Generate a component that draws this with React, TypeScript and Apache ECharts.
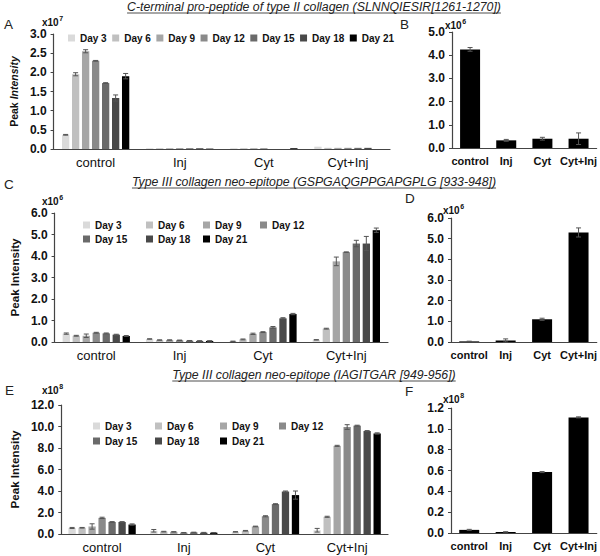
import React, { useEffect, useRef } from 'react';
import * as echarts from 'echarts';

const FONT = '"Liberation Sans", Arial, sans-serif';

const categories = ['control', 'Inj', 'Cyt', 'Cyt+Inj'];
const days = ['Day 3', 'Day 6', 'Day 9', 'Day 12', 'Day 15', 'Day 18', 'Day 21'];
const dayColors = ['#dadada', '#c0c0c0', '#a6a6a6', '#8a8a8a', '#6a6a6a', '#494949', '#000000'];

// Panel A (x10^7) rows = days, cols = categories
const aValues = [
  [0.37, 0.02, 0.02, 0.06],
  [1.95, 0.02, 0.02, 0.03],
  [2.55, 0.02, 0.02, 0.03],
  [2.30, 0.02, 0.02, 0.03],
  [1.72, 0.02, 0.0, 0.03],
  [1.33, 0.02, 0.0, 0.03],
  [1.90, 0.01, 0.02, 0.0],
];
const aErrors = [
  [0.01, 0, 0, 0],
  [0.04, 0, 0, 0],
  [0.04, 0, 0, 0],
  [0.01, 0, 0, 0],
  [0.01, 0, 0, 0],
  [0.08, 0, 0, 0],
  [0.07, 0, 0, 0],
];
// Panel B (x10^6)
const bValues = [4.25, 0.33, 0.4, 0.4];
const bErrors = [0.08, 0.04, 0.06, 0.25];

// Panel C (x10^6)
const cValues = [
  [0.39, 0.14, 0.03, 0.10],
  [0.29, 0.09, 0.12, 0.62],
  [0.29, 0.09, 0.38, 3.75],
  [0.43, 0.08, 0.46, 4.18],
  [0.40, 0.06, 0.68, 4.58],
  [0.34, 0.05, 1.10, 4.58],
  [0.28, 0.05, 1.30, 5.20],
];
const cErrors = [
  [0.03, 0.01, 0.01, 0.01],
  [0.02, 0.01, 0.02, 0.02],
  [0.08, 0.01, 0.03, 0.2],
  [0.02, 0.01, 0.02, 0.01],
  [0.02, 0.01, 0.04, 0.15],
  [0.02, 0.01, 0.03, 0.33],
  [0.02, 0.01, 0.03, 0.1],
];
// Panel D (x10^6)
const dValues = [0.03, 0.07, 1.1, 5.3];
const dErrors = [0.01, 0.08, 0.05, 0.22];

// Panel E (x10^8)
const eValues = [
  [0.56, 0.30, 0.20, 0.35],
  [0.58, 0.22, 0.30, 1.60],
  [0.70, 0.20, 0.70, 8.20],
  [1.50, 0.12, 1.65, 9.95],
  [1.12, 0.15, 2.78, 10.08],
  [1.12, 0.12, 3.95, 9.58],
  [0.88, 0.12, 3.62, 9.35],
];
const eErrors = [
  [0.05, 0.12, 0.02, 0.17],
  [0.03, 0.03, 0.03, 0.05],
  [0.25, 0.02, 0.03, 0.05],
  [0.06, 0.02, 0.05, 0.22],
  [0.03, 0.02, 0.04, 0.04],
  [0.03, 0.03, 0.05, 0.04],
  [0.06, 0.02, 0.38, 0.06],
];
// Panel F (x10^8)
const fValues = [0.03, 0.01, 0.585, 1.11];
const fErrors = [0.005, 0.002, 0.005, 0.005];

const yScales = [
  { max: 3, interval: 0.5 },
  { max: 5, interval: 1 },
  { max: 6, interval: 1 },
  { max: 6, interval: 1 },
  { max: 12, interval: 2 },
  { max: 1.2, interval: 0.2 },
];
const multipliers = ['7', '6', '6', '6', '8', '8'];
const panelLetters = ['A', 'B', 'C', 'D', 'E', 'F'];
const titles = [
  'C-terminal pro-peptide of type II collagen (SLNNQIESIR[1261-1270])',
  'Type III collagen neo-epitope (GSPGAQGPPGAPGPLG [933-948])',
  'Type III collagen neo-epitope (IAGITGAR [949-956])',
];

const grids = [
  { left: 48, top: 34, width: 342, height: 115 },
  { left: 452, top: 32, width: 145, height: 116 },
  { left: 49, top: 213, width: 339, height: 129 },
  { left: 451, top: 218, width: 146, height: 124 },
  { left: 49, top: 405, width: 339, height: 129 },
  { left: 451, top: 408, width: 146, height: 125 },
];

const BW = 7.3;
const GAP = 2.7;

function measure(text: string, font: string) {
  const c = document.createElement('canvas').getContext('2d');
  if (!c) return text.length * 6;
  c.font = font;
  return c.measureText(text).width;
}

function errorRenderer(idx: number, n: number) {
  return (params: any, api: any) => {
    const x = api.value(0);
    const v = api.value(1);
    const e = api.value(2);
    if (!e) return null;
    const hi = api.coord([x, v + e]);
    const lo = api.coord([x, Math.max(0, v - e)]);
    const cx = hi[0] + (idx - (n - 1) / 2) * (BW + GAP);
    const cap = 2.5;
    const style = { stroke: '#555', lineWidth: 1 };
    return {
      type: 'group',
      children: [
        { type: 'line', shape: { x1: cx, y1: hi[1], x2: cx, y2: lo[1] }, style },
        { type: 'line', shape: { x1: cx - cap, y1: hi[1], x2: cx + cap, y2: hi[1] }, style },
        { type: 'line', shape: { x1: cx - cap, y1: lo[1], x2: cx + cap, y2: lo[1] }, style },
      ],
    };
  };
}

function buildOption() {
  const series: any[] = [];
  const grouped = [
    { g: 0, values: aValues, errors: aErrors },
    { g: 2, values: cValues, errors: cErrors },
    { g: 4, values: eValues, errors: eErrors },
  ];
  grouped.forEach(({ g, values, errors }) => {
    days.forEach((d, i) => {
      series.push({
        type: 'bar', name: d, xAxisIndex: g, yAxisIndex: g,
        data: values[i], barWidth: BW, barGap: (GAP / BW * 100).toFixed(1) + '%',
        itemStyle: { color: dayColors[i] }, silent: true,
      });
    });
    days.forEach((d, i) => {
      series.push({
        type: 'custom', name: d + ' error', xAxisIndex: g, yAxisIndex: g, z: 5,
        renderItem: errorRenderer(i, 7), silent: true,
        encode: { x: 0, y: 1 },
        data: values[i].map((v, j) => [j, v, errors[i][j]]),
      });
    });
  });
  const singles = [
    { g: 1, values: bValues, errors: bErrors },
    { g: 3, values: dValues, errors: dErrors },
    { g: 5, values: fValues, errors: fErrors },
  ];
  singles.forEach(({ g, values, errors }) => {
    series.push({
      type: 'bar', name: 'Mean', xAxisIndex: g, yAxisIndex: g, data: values,
      barWidth: 20, itemStyle: { color: '#000' }, silent: true,
    });
    series.push({
      type: 'custom', name: 'Error', xAxisIndex: g, yAxisIndex: g, z: 5,
      renderItem: errorRenderer(0, 1), silent: true, encode: { x: 0, y: 1 },
      data: values.map((v, j) => [j, v, errors[j]]),
    });
  });

  const isLeft = (g: number) => g % 2 === 0;
  const xAxis = grids.map((_, g) => ({
    type: 'category', gridIndex: g, data: categories,
    axisTick: { show: false },
    axisLine: { lineStyle: { color: '#444', width: 1.2 } },
    axisLabel: isLeft(g)
      ? { fontSize: 13, color: '#111', fontFamily: FONT, margin: 7 }
      : { fontSize: 11, fontWeight: 'bold', color: '#111', fontFamily: FONT, margin: 7, interval: 0 },
  }));
  const yAxis = grids.map((_, g) => {
    const ax: any = {
      type: 'value', gridIndex: g, min: 0, max: yScales[g].max, interval: yScales[g].interval,
      splitLine: { show: false },
      axisLine: { show: true, lineStyle: { color: '#444', width: 1.2 } },
      axisTick: { show: true, length: 3, lineStyle: { color: '#444' } },
      axisLabel: {
        fontSize: 12, fontWeight: 'bold', color: '#111', fontFamily: FONT, margin: 7,
        formatter: (v: number) => v.toFixed(1),
      },
    };
    if (isLeft(g)) {
      ax.nameLocation = 'middle';
      ax.nameRotate = 90;
      ax.nameGap = 33;
      if (g === 0) {
        ax.name = '{a|Peak }{b|Intensity}';
        ax.nameTextStyle = {
          rich: {
            a: { fontSize: 10.5, fontWeight: 'bold', color: '#111', fontFamily: FONT },
            b: { fontSize: 10.5, fontWeight: 'bold', fontStyle: 'italic', color: '#111', fontFamily: FONT },
          },
        };
      } else {
        ax.name = 'Peak Intensity';
        ax.nameTextStyle = { fontSize: 11.6, fontWeight: 'bold', color: '#111', fontFamily: FONT };
      }
    }
    return ax;
  });

  const legendBase = {
    padding: 0, itemWidth: 7, itemHeight: 7, icon: 'rect', selectedMode: false,
    textStyle: { fontSize: 10, fontWeight: 'bold', color: '#111', fontFamily: FONT },
  };
  const legends: any[] = [
    { ...legendBase, left: 68, top: 33, orient: 'horizontal', itemGap: 5.5, data: days },
  ];
  const cPos = [[83, 226], [146, 226], [203, 226], [260, 226], [83, 240], [146, 240], [203, 240]];
  const ePos = [[93, 427], [155, 427], [220, 427], [279, 427], [93, 442], [155, 442], [220, 442]];
  days.forEach((d, i) => {
    legends.push({ ...legendBase, left: cPos[i][0], top: cPos[i][1] - 6, data: [d] });
  });
  days.forEach((d, i) => {
    legends.push({ ...legendBase, left: ePos[i][0], top: ePos[i][1] - 6, data: [d] });
  });

  const graphic: any[] = [];
  const titleFont = `italic 12.3px ${FONT}`;
  const titleY = [7, 182, 375];
  titles.forEach((t, i) => {
    const w = measure(t, titleFont);
    graphic.push({
      type: 'text', x: 314, y: titleY[i],
      style: { text: t, font: titleFont, fill: '#222', align: 'center', verticalAlign: 'middle' },
    });
    graphic.push({
      type: 'line', shape: { x1: 314 - w / 2, y1: titleY[i] + 6, x2: 314 + w / 2, y2: titleY[i] + 6 },
      style: { stroke: '#222', lineWidth: 0.8 },
    });
  });
  const letterPos = [[4, 24], [400, 24], [4, 184], [405, 198], [5, 390], [405, 391]];
  panelLetters.forEach((l, i) => {
    graphic.push({
      type: 'text', x: letterPos[i][0], y: letterPos[i][1],
      style: { text: l, font: `13.5px ${FONT}`, fill: '#222', verticalAlign: 'middle' },
    });
  });
  const multPos = [[42, 22], [445, 25], [42, 201], [443, 210], [42, 390], [443, 399]];
  const multFont = `bold 10px ${FONT}`;
  const xw = measure('x10', multFont);
  multipliers.forEach((m, i) => {
    graphic.push({
      type: 'text', x: multPos[i][0], y: multPos[i][1],
      style: { text: 'x10', font: multFont, fill: '#111', verticalAlign: 'middle' },
    });
    graphic.push({
      type: 'text', x: multPos[i][0] + xw + 0.5, y: multPos[i][1] - 4,
      style: { text: m, font: `bold 7px ${FONT}`, fill: '#111', verticalAlign: 'middle' },
    });
  });

  return {
    animation: false,
    backgroundColor: '#fff',
    textStyle: { fontFamily: FONT },
    grid: grids,
    xAxis,
    yAxis,
    legend: legends,
    graphic,
    series,
  };
}

export default function App() {
  const ref = useRef<HTMLDivElement>(null);
  useEffect(() => {
    if (!ref.current) return;
    const chart = echarts.init(ref.current, undefined, { renderer: 'svg' });
    chart.setOption(buildOption() as any);
    return () => chart.dispose();
  }, []);
  return (
    <div
      ref={ref}
      style={{ position: 'absolute', left: 0, top: 0, width: 600, height: 556, background: '#fff' }}
    />
  );
}
